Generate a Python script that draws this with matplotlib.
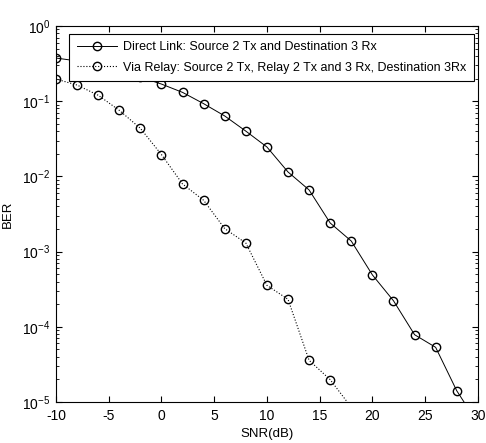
import matplotlib
matplotlib.use("Agg")
import matplotlib.pyplot as plt
from matplotlib.ticker import LogLocator, NullFormatter

plt.rcParams["font.family"] = ["Liberation Sans", "DejaVu Sans"]
plt.rcParams["mathtext.fontset"] = "custom"
plt.rcParams["mathtext.rm"] = "Liberation Sans"
plt.rcParams["mathtext.it"] = "Liberation Sans"
plt.rcParams["axes.unicode_minus"] = False

# SNR points (dB)
snr_direct = [-10, -8, -6, -4, -2, 0, 2, 4, 6, 8, 10, 12, 14, 16, 18, 20, 22, 24, 26, 28, 30]
ber_direct = [0.375, 0.343, 0.30, 0.25, 0.21, 0.169, 0.131, 0.0927, 0.0636, 0.040,
              0.0246, 0.01145, 0.0066, 0.0024, 0.00138, 4.9e-4, 2.22e-4, 7.85e-5,
              5.33e-5, 1.41e-5, 5.2e-6]

snr_relay = [-10, -8, -6, -4, -2, 0, 2, 4, 6, 8, 10, 12, 14, 16, 18]
ber_relay = [0.197, 0.164, 0.12, 0.0756, 0.0436, 0.0195, 0.00793, 0.00481, 0.00202,
             0.0013, 3.56e-4, 2.32e-4, 3.58e-5, 1.98e-5, 8.5e-6]

labels = ["Direct Link: Source 2 Tx and Destination 3 Rx",
          "Via Relay: Source 2 Tx, Relay 2 Tx and 3 Rx, Destination 3Rx"]

fig = plt.figure(figsize=(4.86, 4.43), dpi=100)
ax = fig.add_axes([0.1152, 0.0926, 0.868, 0.8487])

ax.semilogy(snr_direct, ber_direct, "k-", marker="o", mfc="none", mec="k",
            markersize=6, linewidth=0.7, label=labels[0])
ax.semilogy(snr_relay, ber_relay, "k:", marker="o", mfc="none", mec="k",
            markersize=6, linewidth=0.8, label=labels[1])

ax.set_xlim(-10, 30)
ax.set_ylim(1e-5, 1)
ax.set_xticks(range(-10, 31, 5))
ax.yaxis.set_major_locator(LogLocator(base=10, numticks=10))
ax.yaxis.set_minor_locator(LogLocator(base=10, subs=range(2, 10), numticks=20))
ax.yaxis.set_minor_formatter(NullFormatter())
ax.tick_params(which="both", direction="in", top=True, right=True, labelsize=10)
ax.tick_params(axis="x", pad=5)
ax.tick_params(axis="y", pad=4)
ax.tick_params(which="major", length=4)
ax.tick_params(which="minor", length=2)
ax.set_xlabel("SNR(dB)", fontsize=9.5, labelpad=4)
ax.set_ylabel("BER", fontsize=9.5, labelpad=6)

leg = ax.legend(loc="upper right", bbox_to_anchor=(0.99, 0.979), fontsize=9,
                frameon=True, fancybox=False, edgecolor="k", framealpha=1,
                borderpad=0.6, labelspacing=0.65, handlelength=3.2,
                handletextpad=0.5, borderaxespad=0)
leg.get_frame().set_linewidth(0.8)

fig.savefig("out.png", dpi=100)
